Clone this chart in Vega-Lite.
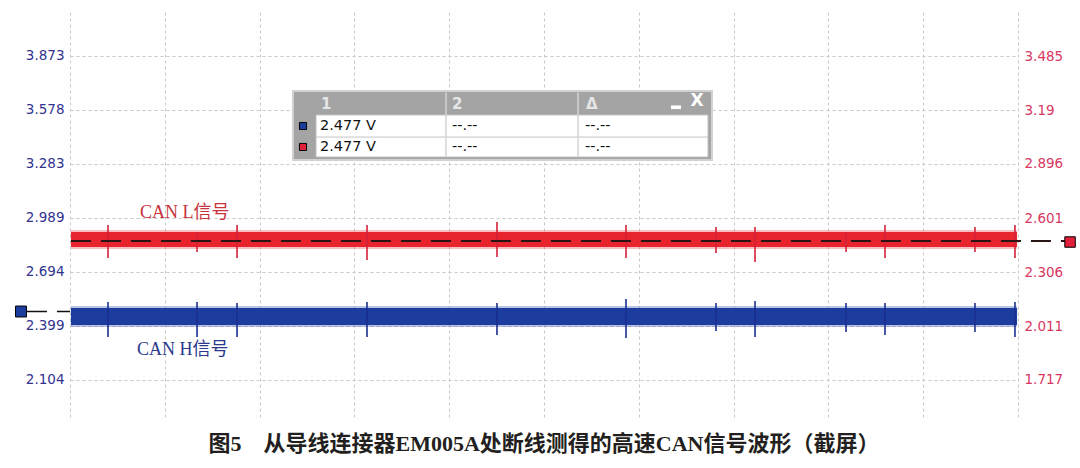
{
  "$schema": "https://vega.github.io/schema/vega-lite/v6.json",
  "width": 948,
  "height": 406,
  "autosize": {"type": "none"},
  "padding": {"left": 70, "top": 12, "right": 62, "bottom": 50},
  "background": "white",
  "title": {
    "text": "图5　从导线连接器EM005A处断线测得的高速CAN信号波形（截屏）",
    "orient": "bottom",
    "anchor": "middle",
    "baseline": "top",
    "offset": 16,
    "font": "Liberation Serif, Noto Sans CJK SC",
    "fontSize": 22,
    "fontWeight": "bold",
    "color": "#231f20"
  },
  "config": {
    "view": {"stroke": null},
    "axis": {"title": null}
  },
  "datasets": {
    "blueEnvelope": [{"x": 0.01, "x2": 9.99, "y": 2.3929, "y2": 2.5076}],
    "blueBand": [{"x": 0.01, "x2": 9.99, "y": 2.4038, "y2": 2.4967}],
    "blueSpikes": [
      {"x": 0.401, "y": 2.338, "y2": 2.529},
      {"x": 1.340, "y": 2.338, "y2": 2.529},
      {"x": 1.762, "y": 2.338, "y2": 2.524},
      {"x": 3.133, "y": 2.338, "y2": 2.529},
      {"x": 4.504, "y": 2.349, "y2": 2.524},
      {"x": 5.865, "y": 2.333, "y2": 2.546},
      {"x": 6.814, "y": 2.371, "y2": 2.524},
      {"x": 7.226, "y": 2.338, "y2": 2.535},
      {"x": 8.186, "y": 2.366, "y2": 2.524},
      {"x": 8.597, "y": 2.349, "y2": 2.524},
      {"x": 9.546, "y": 2.366, "y2": 2.524},
      {"x": 9.968, "y": 2.338, "y2": 2.529}
    ],
    "blueMarkerLine": [{"x": -0.454, "x2": 0.0, "y": 2.4775}],
    "blueMarker": [{"x": -0.517, "y": 2.4775}],
    "labels": [
      {"x": 0.738, "y": 3.0154, "text": "CAN L信号", "signal": "CAN L"},
      {"x": 0.707, "y": 2.2673, "text": "CAN H信号", "signal": "CAN H"}
    ],
    "tableFrame": [{"x": 2.352, "x2": 6.772, "y": 3.305, "y2": 3.682}],
    "tableCells": [{"x": 2.595, "x2": 6.730, "y": 3.321, "y2": 3.551}],
    "tableRowLine": [{"x": 2.595, "x2": 6.730, "y": 3.430}],
    "tableColLines": [
      {"x": 3.966, "y": 3.321, "y2": 3.672},
      {"x": 5.359, "y": 3.321, "y2": 3.672}
    ],
    "tableHeader": [
      {"x": 2.648, "y": 3.609, "text": "1"},
      {"x": 4.030, "y": 3.609, "text": "2"},
      {"x": 5.443, "y": 3.609, "text": "Δ"}
    ],
    "tableMin": [{"x": 6.340, "x2": 6.445, "y": 3.583, "y2": 3.603}],
    "tableClose": [{"x": 6.614, "y": 3.627, "text": "X"}],
    "tableSwatches": [
      {"x": 2.458, "y": 3.4905, "signal": "CAN H"},
      {"x": 2.458, "y": 3.376, "signal": "CAN L"}
    ],
    "tableText": [
      {"x": 2.637, "y": 3.4905, "text": "2.477 V"},
      {"x": 2.637, "y": 3.376, "text": "2.477 V"},
      {"x": 4.030, "y": 3.4905, "text": "--.--"},
      {"x": 4.030, "y": 3.376, "text": "--.--"},
      {"x": 5.432, "y": 3.4905, "text": "--.--"},
      {"x": 5.432, "y": 3.376, "text": "--.--"}
    ],
    "redEnvelope": [{"x": 0.01, "x2": 9.99, "y": 2.4319, "y2": 2.5357}],
    "redBand": [{"x": 0.01, "x2": 9.99, "y": 2.4428, "y2": 2.5247}],
    "redSpikes": [
      {"x": 0.401, "y": 2.383, "y2": 2.563},
      {"x": 1.340, "y": 2.415, "y2": 2.519},
      {"x": 1.762, "y": 2.383, "y2": 2.563},
      {"x": 3.133, "y": 2.372, "y2": 2.563},
      {"x": 4.504, "y": 2.388, "y2": 2.579},
      {"x": 5.865, "y": 2.383, "y2": 2.563},
      {"x": 6.814, "y": 2.410, "y2": 2.552},
      {"x": 7.226, "y": 2.361, "y2": 2.552},
      {"x": 8.186, "y": 2.415, "y2": 2.519},
      {"x": 8.597, "y": 2.383, "y2": 2.563},
      {"x": 9.546, "y": 2.415, "y2": 2.552},
      {"x": 9.968, "y": 2.383, "y2": 2.563}
    ],
    "redDash": [{"x": 0.01, "x2": 10.496, "y": 2.4755}],
    "redMarker": [{"x": 10.549, "y": 2.470}]
  },
  "layer": [
    {
      "encoding": {
        "x": {
          "field": "x", "type": "quantitative",
          "scale": {"domain": [0, 10], "nice": false, "zero": false},
          "axis": {"values": [0,1,2,3,4,5,6,7,8,9,10], "labels": false, "ticks": false, "domain": false, "grid": true, "gridColor": "#c8c8c8", "gridDash": [3, 3], "gridWidth": 1, "title": null}
        },
        "y": {
          "field": "y", "type": "quantitative",
          "scale": {"domain": [1.896, 4.113], "nice": false, "zero": false},
          "axis": {"orient": "left", "values": [2.104, 2.399, 2.694, 2.989, 3.283, 3.578, 3.873], "format": ".4~g", "domain": false, "ticks": false, "labelPadding": 6, "labelFont": "DejaVu Sans", "labelFontSize": 13.5, "labelColor": "#32338f", "grid": true, "gridColor": "#c8c8c8", "gridDash": [3, 3], "gridWidth": 1, "title": null}
        }
      },
      "layer": [
        {"data": {"name": "blueEnvelope"}, "mark": {"type": "rect", "color": "#3a55ad", "opacity": 0.35}, "encoding": {"x2": {"field": "x2"}, "y2": {"field": "y2"}}},
        {"data": {"name": "blueBand"}, "mark": {"type": "rect", "color": "#1c3c9e"}, "encoding": {"x2": {"field": "x2"}, "y2": {"field": "y2"}}},
        {"data": {"name": "blueSpikes"}, "mark": {"type": "rule", "color": "#1a2f8f", "strokeWidth": 1.6}, "encoding": {"y2": {"field": "y2"}}},
        {"data": {"name": "blueMarkerLine"}, "mark": {"type": "rule", "color": "#111111", "strokeWidth": 1.5, "strokeDash": [20, 10]}, "encoding": {"x2": {"field": "x2"}}},
        {"data": {"name": "blueMarker"}, "mark": {"type": "point", "shape": "square", "size": 120, "filled": true, "color": "#1c3c9e", "stroke": "#000000", "strokeWidth": 1, "opacity": 1}},
        {"data": {"name": "labels"}, "mark": {"type": "text", "align": "left", "baseline": "middle", "font": "Liberation Serif, Noto Sans CJK SC", "fontSize": 18},
          "encoding": {"text": {"field": "text"}, "color": {"field": "signal", "type": "nominal", "scale": {"domain": ["CAN L", "CAN H"], "range": ["#c8323c", "#2b3a8c"]}, "legend": null}}},
        {"data": {"name": "tableFrame"}, "mark": {"type": "rect", "fill": "#a4a4a4", "stroke": "#d2d2d2", "strokeWidth": 2}, "encoding": {"x2": {"field": "x2"}, "y2": {"field": "y2"}}},
        {"data": {"name": "tableCells"}, "mark": {"type": "rect", "fill": "#ffffff", "stroke": "#bdbdbd", "strokeWidth": 1}, "encoding": {"x2": {"field": "x2"}, "y2": {"field": "y2"}}},
        {"data": {"name": "tableRowLine"}, "mark": {"type": "rule", "color": "#c4c4c4", "strokeWidth": 1}, "encoding": {"x2": {"field": "x2"}}},
        {"data": {"name": "tableColLines"}, "mark": {"type": "rule", "color": "#d4d4d4", "strokeWidth": 1.5}, "encoding": {"y2": {"field": "y2"}}},
        {"data": {"name": "tableHeader"}, "mark": {"type": "text", "align": "left", "baseline": "middle", "font": "DejaVu Sans", "fontSize": 15, "fontWeight": "bold", "color": "#e6e6e6"}, "encoding": {"text": {"field": "text"}}},
        {"data": {"name": "tableMin"}, "mark": {"type": "rect", "fill": "#ffffff"}, "encoding": {"x2": {"field": "x2"}, "y2": {"field": "y2"}}},
        {"data": {"name": "tableClose"}, "mark": {"type": "text", "align": "center", "baseline": "middle", "font": "DejaVu Sans", "fontSize": 17, "fontWeight": "bold", "color": "#ffffff"}, "encoding": {"text": {"field": "text"}}},
        {"data": {"name": "tableSwatches"}, "mark": {"type": "point", "shape": "square", "size": 50, "filled": true, "stroke": "#000000", "strokeWidth": 1, "opacity": 1},
          "encoding": {"fill": {"field": "signal", "type": "nominal", "scale": {"domain": ["CAN L", "CAN H"], "range": ["#e0203a", "#1c3c9e"]}, "legend": null}}},
        {"data": {"name": "tableText"}, "mark": {"type": "text", "align": "left", "baseline": "middle", "font": "DejaVu Sans", "fontSize": 14.5, "color": "#111111"}, "encoding": {"text": {"field": "text"}}}
      ]
    },
    {
      "encoding": {
        "x": {
          "field": "x", "type": "quantitative",
          "scale": {"domain": [0, 10], "nice": false, "zero": false},
          "axis": {"values": [0,1,2,3,4,5,6,7,8,9,10], "labels": false, "ticks": false, "domain": false, "grid": true, "gridColor": "#c8c8c8", "gridDash": [3, 3], "gridWidth": 1, "title": null}
        },
        "y": {
          "field": "y", "type": "quantitative",
          "scale": {"domain": [1.509, 3.726], "nice": false, "zero": false},
          "axis": {"orient": "right", "values": [1.717, 2.011, 2.306, 2.601, 2.896, 3.19, 3.485], "format": ".4~g", "domain": false, "ticks": false, "labelPadding": 6, "labelFont": "DejaVu Sans", "labelFontSize": 13.5, "labelColor": "#d8375f", "grid": false, "title": null}
        }
      },
      "layer": [
        {"data": {"name": "redEnvelope"}, "mark": {"type": "rect", "color": "#ec4a52", "opacity": 0.35}, "encoding": {"x2": {"field": "x2"}, "y2": {"field": "y2"}}},
        {"data": {"name": "redBand"}, "mark": {"type": "rect", "color": "#e8242e"}, "encoding": {"x2": {"field": "x2"}, "y2": {"field": "y2"}}},
        {"data": {"name": "redSpikes"}, "mark": {"type": "rule", "color": "#d42038", "strokeWidth": 1.6}, "encoding": {"y2": {"field": "y2"}}},
        {"data": {"name": "redDash"}, "mark": {"type": "rule", "color": "#2a1414", "strokeWidth": 1.8, "strokeDash": [20, 10]}, "encoding": {"x2": {"field": "x2"}}},
        {"data": {"name": "redMarker"}, "mark": {"type": "point", "shape": "square", "size": 110, "filled": true, "color": "#e0203a", "stroke": "#000000", "strokeWidth": 1, "opacity": 1}}
      ]
    }
  ],
  "resolve": {"scale": {"y": "independent"}}
}
